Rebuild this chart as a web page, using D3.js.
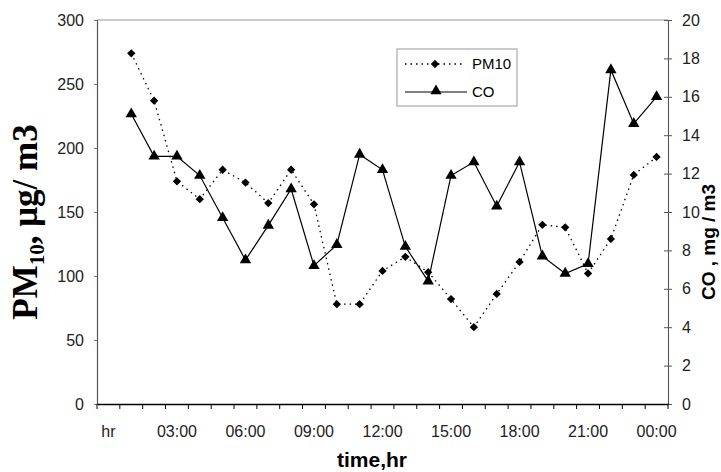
<!DOCTYPE html>
<html>
<head>
<meta charset="utf-8">
<script src="https://cdn.jsdelivr.net/npm/d3@7"></script>
<style>
  body { margin: 0; background: #fff; }
  .tick text { font-family: "Liberation Sans", Arial, sans-serif; font-size: 16px; fill: #222; }
</style>
</head>
<body>
<div id="chart"></div>
<script>
  // categories: hr (0) to 00:00 (24), data from 01:00
  var hours = ["hr", "01:00", "02:00", "03:00", "04:00", "05:00", "06:00", "07:00", "08:00",
      "09:00", "10:00", "11:00", "12:00", "13:00", "14:00", "15:00", "16:00", "17:00",
      "18:00", "19:00", "20:00", "21:00", "22:00", "23:00", "00:00"];
  var tickLabels = ["hr", "03:00", "06:00", "09:00", "12:00", "15:00", "18:00", "21:00", "00:00"];
  var dataHours = hours.slice(1);

  var pm10 = [274, 237, 174, 160, 183, 173, 157, 183, 156, 78, 78, 104, 115, 103, 82,
      60, 86, 111, 140, 138, 102, 129, 179, 193];
  var co = [15.1, 12.9, 12.9, 11.9, 9.7, 7.5, 9.3, 11.2, 7.2, 8.3, 13.0, 12.2, 8.2, 6.4,
      11.9, 12.6, 10.3, 12.6, 7.7, 6.8, 7.3, 17.4, 14.6, 16.0];

  var leftTicks = [0, 50, 100, 150, 200, 250, 300];
  var rightTicks = [0, 2, 4, 6, 8, 10, 12, 14, 16, 18, 20];

  var W = 721, H = 472,
      x0 = 97, x1 = 668, yTop = 20, yBot = 404;

  var svg = d3.select("#chart").append("svg")
      .attr("width", W)
      .attr("height", H);

  var x = d3.scaleBand().domain(hours).range([x0, x1]).padding(0);
  var yL = d3.scaleLinear().domain([0, 300]).range([yBot, yTop]);
  var yR = d3.scaleLinear().domain([0, 20]).range([yBot, yTop]);
  var cx = function(h) { return x(h) + x.bandwidth() / 2; };

  // plot border (top)
  svg.append("line")
      .attr("x1", x0).attr("x2", x1).attr("y1", yTop).attr("y2", yTop)
      .attr("stroke", "#999").attr("stroke-width", 1.2);

  // left axis
  var gL = svg.append("g")
      .attr("transform", "translate(" + x0 + ",0)")
      .call(d3.axisLeft(yL).tickValues(leftTicks).tickSize(3).tickPadding(10));
  gL.select(".domain").attr("stroke", "#555").attr("stroke-width", 1.2);
  gL.selectAll(".tick line").attr("stroke", "#777");

  // right axis with crossing ticks
  var gR = svg.append("g")
      .attr("transform", "translate(" + x1 + ",0)")
      .call(d3.axisRight(yR).tickValues(rightTicks).tickSize(4).tickPadding(10));
  gR.select(".domain").attr("stroke", "#555").attr("stroke-width", 1.1);
  gR.selectAll(".tick line").attr("x1", -4).attr("stroke", "#555");

  // bottom axis: ticks at category boundaries
  var gB = svg.append("g")
      .attr("transform", "translate(0," + yBot + ")")
      .call(d3.axisBottom(x).tickValues(tickLabels).tickSize(0).tickPadding(33));
  gB.select(".domain").attr("stroke", "#000").attr("stroke-width", 1.3);
  gB.selectAll(".tick text").attr("dy", "0");
  gB.selectAll(".bnd").data(hours.concat(["end"])).enter().append("line")
      .attr("class", "bnd")
      .attr("x1", function(d, i) { return x0 + i * x.bandwidth(); })
      .attr("x2", function(d, i) { return x0 + i * x.bandwidth(); })
      .attr("y1", 0).attr("y2", 5)
      .attr("stroke", "#000");

  // PM10 dotted line + diamonds
  var linePM = d3.line()
      .x(function(d, i) { return cx(dataHours[i]); })
      .y(function(d) { return yL(d); });
  svg.append("path").datum(pm10)
      .attr("d", linePM)
      .attr("fill", "none").attr("stroke", "#000")
      .attr("stroke-width", 1.3).attr("stroke-dasharray", "1.5,4");

  var diamond = d3.symbol().type(d3.symbolDiamond2).size(44);
  svg.selectAll(".pm").data(pm10).enter().append("path")
      .attr("class", "pm")
      .attr("d", diamond)
      .attr("transform", function(d, i) { return "translate(" + cx(dataHours[i]) + "," + yL(d) + ")"; })
      .attr("fill", "#000");

  // CO solid line + triangles
  var lineCO = d3.line()
      .x(function(d, i) { return cx(dataHours[i]); })
      .y(function(d) { return yR(d); });
  svg.append("path").datum(co)
      .attr("d", lineCO)
      .attr("fill", "none").attr("stroke", "#000").attr("stroke-width", 1.2);

  var tri = d3.symbol().type(d3.symbolTriangle).size(56);
  svg.selectAll(".co").data(co).enter().append("path")
      .attr("class", "co")
      .attr("d", tri)
      .attr("transform", function(d, i) { return "translate(" + cx(dataHours[i]) + "," + yR(d) + ")"; })
      .attr("fill", "#000");

  // legend
  var lg = svg.append("g");
  lg.append("rect")
      .attr("x", 397).attr("y", 49).attr("width", 120).attr("height", 57)
      .attr("fill", "#fff").attr("stroke", "#aaa").attr("stroke-width", 1.2);
  lg.append("line").attr("x1", 405).attr("x2", 465).attr("y1", 64).attr("y2", 64)
      .attr("stroke", "#000").attr("stroke-width", 1.3).attr("stroke-dasharray", "1.5,4");
  lg.append("path").attr("d", diamond).attr("transform", "translate(435,64)");
  lg.append("text").attr("x", 472).attr("y", 64).attr("dy", "0.35em")
      .style("font", "15px 'Liberation Sans', Arial, sans-serif").text("PM10");
  lg.append("line").attr("x1", 405).attr("x2", 467).attr("y1", 92).attr("y2", 92)
      .attr("stroke", "#000").attr("stroke-width", 1.2);
  lg.append("path").attr("d", tri).attr("transform", "translate(436,91)");
  lg.append("text").attr("x", 472).attr("y", 92).attr("dy", "0.35em")
      .style("font", "15px 'Liberation Sans', Arial, sans-serif").text("CO");

  // axis titles
  var tL = svg.append("text")
      .attr("transform", "translate(37,222) rotate(-90)")
      .attr("text-anchor", "middle")
      .style("font", "bold 35px 'Liberation Serif', 'Times New Roman', serif");
  tL.append("tspan").text("PM");
  tL.append("tspan").attr("dy", 7).style("font-size", "21px").text("10");
  tL.append("tspan").attr("dy", -7).text(", μg/ m3");

  svg.append("text")
      .attr("transform", "translate(715,242) rotate(-90)")
      .attr("text-anchor", "middle")
      .style("font", "bold 19px 'Liberation Sans', Arial, sans-serif")
      .text("CO , mg / m3");

  svg.append("text")
      .attr("x", 372).attr("y", 467)
      .attr("text-anchor", "middle")
      .style("font", "bold 21px 'Liberation Sans', Arial, sans-serif")
      .text("time,hr");
</script>
</body>
</html>
